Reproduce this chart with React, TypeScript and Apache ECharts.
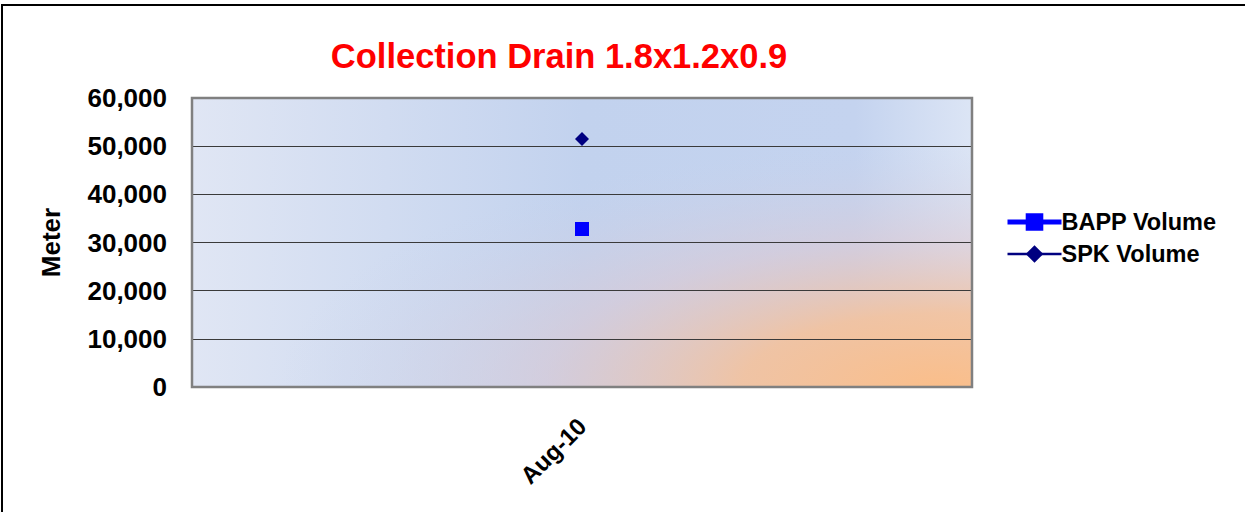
import React, { useEffect, useRef } from "react";
import * as echarts from "echarts";

const categories = ["Aug-10"];
const bappVolume = [32800];
const spkVolume = [51500];
const yTicks = [0, 10000, 20000, 30000, 40000, 50000, 60000];

const FONT = "Liberation Sans, Arial, sans-serif";

export default function App() {
  const ref = useRef<HTMLDivElement>(null);
  useEffect(() => {
    document.body.style.margin = "0";
    const chart = echarts.init(ref.current!, null, { renderer: "svg" });
    const gl = 192, gt = 98, gw = 780, gh = 289;
    const sy = 0.6;
    chart.setOption({
      animation: false,
      backgroundColor: "#ffffff",
      title: {
        text: "Collection Drain 1.8x1.2x0.9",
        left: 554,
        top: 33,
        textAlign: "center",
        textStyle: { color: "#ff0000", fontFamily: FONT, fontWeight: "bold", fontSize: 34.5 },
      },
      graphic: [
        {
          type: "rect",
          z: -100,
          silent: true,
          shape: { x: 2, y: 5, width: 1260, height: 530 },
          style: { fill: "none", stroke: "#000", lineWidth: 2 },
        },
        {
          type: "rect",
          z: -90,
          silent: true,
          shape: { x: gl, y: gt, width: gw, height: gh },
          style: {
            fill: new echarts.graphic.LinearGradient(0, 0, 1, 0, [
              { offset: 0, color: "#e0e6f4" },
              { offset: 0.5, color: "#c2d2ee" },
              { offset: 0.85, color: "#c4d3ef" },
              { offset: 1, color: "#dce5f5" },
            ]),
          },
        },
        {
          type: "rect",
          z: -80,
          silent: true,
          x: gl,
          y: gt,
          scaleY: sy,
          shape: { x: 0, y: 0, width: gw, height: gh / sy },
          style: {
            fill: new echarts.graphic.RadialGradient(0.96, 1.0, 0.85, [
              { offset: 0, color: "rgba(250,190,138,1)" },
              { offset: 0.3, color: "rgba(243,194,158,0.92)" },
              { offset: 0.6, color: "rgba(222,200,208,0.55)" },
              { offset: 1, color: "rgba(200,210,235,0)" },
            ]),
          },
        },
        {
          type: "rect",
          z: 50,
          silent: true,
          shape: { x: gl, y: gt, width: gw, height: gh },
          style: { fill: "none", stroke: "#808080", lineWidth: 2.5 },
        },
      ],
      grid: { left: gl, top: gt, width: gw, height: gh, containLabel: false },
      legend: {
        orient: "vertical",
        left: 1000,
        top: 205,
        itemWidth: 54,
        itemHeight: 22,
        itemGap: 8,
        textStyle: { fontFamily: FONT, fontWeight: "bold", fontSize: 23.5, color: "#000", padding: [0, 0, 0, -5] },
        data: [
          { name: "BAPP Volume", lineStyle: { width: 5 } },
          { name: "SPK Volume", lineStyle: { width: 2.5 } },
        ],
      },
      xAxis: {
        type: "category",
        data: categories,
        boundaryGap: true,
        axisLine: { show: true, lineStyle: { color: "#222", width: 2 } },
        axisTick: { show: false },
        axisLabel: {
          rotate: 45,
          margin: 35,
          color: "#000",
          fontFamily: FONT,
          fontWeight: "bold",
          fontSize: 24,
        },
      },
      yAxis: {
        type: "value",
        min: yTicks[0],
        max: yTicks[yTicks.length - 1],
        interval: yTicks[1] - yTicks[0],
        name: "Meter",
        nameLocation: "middle",
        nameGap: 128,
        nameRotate: 90,
        nameTextStyle: { color: "#000", fontFamily: FONT, fontWeight: "bold", fontSize: 26 },
        axisLine: { show: true, lineStyle: { color: "#555", width: 2 } },
        axisTick: { show: false },
        splitLine: { show: true, lineStyle: { color: "#3a3a3a", width: 1.2 } },
        axisLabel: {
          margin: 25,
          color: "#000",
          fontFamily: FONT,
          fontWeight: "bold",
          fontSize: 26,
          formatter: (v: number) => v.toLocaleString("en-US"),
        },
      },
      series: [
        {
          name: "BAPP Volume",
          type: "line",
          data: bappVolume,
          symbol: "rect",
          symbolSize: 14,
          itemStyle: { color: "#0000ff" },
          lineStyle: { color: "#0000ff", width: 5 },
          z: 10,
        },
        {
          name: "SPK Volume",
          type: "line",
          data: spkVolume,
          symbol: "diamond",
          symbolSize: 14,
          itemStyle: { color: "#000080" },
          lineStyle: { color: "#000080", width: 2.5 },
          z: 10,
        },
      ],
    });
    return () => chart.dispose();
  }, []);
  return <div ref={ref} style={{ width: 1245, height: 512 }} />;
}
